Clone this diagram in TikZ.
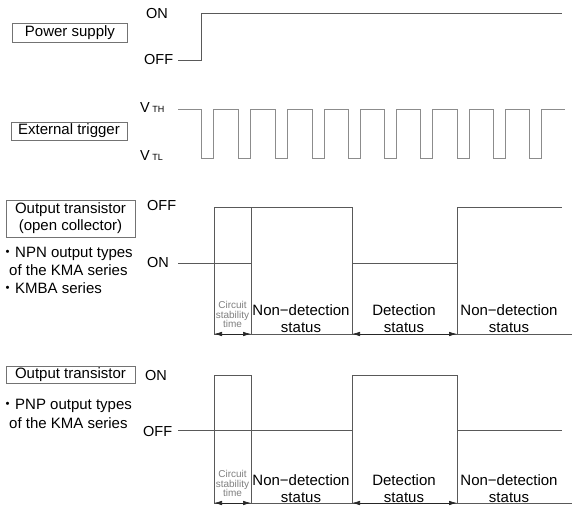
\documentclass[tikz,border=0pt]{standalone}
\usepackage{fontspec}
\setmainfont{Liberation Sans}
\newfontfamily\jpfont{Noto Sans CJK JP}
\usetikzlibrary{arrows.meta}
\newcommand{\jdot}{{\jpfont ・}}
\newcommand{\jdash}{\char"2212\relax}
\tikzset{
  lbl/.style={font=\fontsize{14.5}{17}\selectfont, inner sep=0pt},
  boxlbl/.style={draw=black!55, line width=0.7pt, inner sep=0pt, align=center, font=\fontsize{15}{17}\selectfont},
  notes/.style={font=\fontsize{15}{18}\selectfont, inner sep=0pt, anchor=base west},
  status/.style={font=\fontsize{15}{17}\selectfont, inner sep=0pt, align=center},
  tiny/.style={font=\fontsize{10}{9.5}\selectfont, text=black!50, inner sep=0pt, align=center},
  wave/.style={draw=black!65, line width=0.8pt},
  trig/.style={draw=black!45, line width=0.8pt},
  dimline/.style={draw=black!65, line width=0.7pt},
  dimarrow/.style={draw=black!85, line width=0.7pt, {Latex[length=8pt,width=4.5pt]}-{Latex[length=8pt,width=4.5pt]}}
}
\begin{document}
\begin{tikzpicture}[x=1pt,y=-1pt]
\useasboundingbox[fill=white] (0,0) rectangle (572,508);

% ---------- Power supply ----------
\node[boxlbl, minimum width=115pt, minimum height=19pt] (pwr) at (70,32.5) {Power supply};
\node[lbl, anchor=west] (pon) at (146,14) {ON};
\node[lbl, anchor=west] (poff) at (144,60) {OFF};
\draw[wave] (178,60) -- (201,60) -- (201,13) -- (562,13);

% ---------- External trigger ----------
\node[boxlbl, minimum width=116pt, minimum height=18pt] (trg) at (69,131) {External trigger};
\node[lbl, anchor=west] (vth) at (140,108) {V\,{\fontsize{9}{9}\selectfont TH}};
\node[lbl, anchor=west] (vtl) at (140,156) {V\,{\fontsize{9}{9}\selectfont TL}};
\draw[trig] (178,109)
  \foreach \f in {201,238,275,312,348,384,420,457,493,529}
    { -- (\f,109) -- (\f,158) -- ({\f+12},158) -- ({\f+12},109) }
  -- (565,109);

% ---------- Output transistor (NPN) ----------
\node[boxlbl, minimum width=129pt, minimum height=37pt] (npn) at (70.5,218.5)
  {Output transistor\\(open collector)};
\node[notes] (npn1) at (0,257.5) {\jdot NPN output types};
\node[notes] (npn2) at (9,275.5) {of the KMA series};
\node[notes] (npn3) at (0,293.5) {\jdot KMBA series};
\node[lbl, anchor=west] (noff) at (147,206) {OFF};
\node[lbl, anchor=west] (non) at (147,263) {ON};
\draw[wave] (178,263) -- (251,263);
\draw[wave] (214,334) -- (214,207) -- (352,207) -- (352,334);
\draw[wave] (251,207) -- (251,334);
\draw[wave] (352,263) -- (457,263);
\draw[wave] (457,334) -- (457,207) -- (562,207);
\draw[dimline] (214,334) -- (572,334);
\draw[dimarrow] (214,334) -- (251,334);
\draw[dimarrow] (352,334) -- (457,334);
\node[tiny] (nst) at (232.5,314.5) {Circuit\\stability\\time};
\node[status] (nnd1) at (301,318.5) {Non\jdash detection\\status};
\node[status] (ndt) at (404,318.5) {Detection\\status};
\node[status] (nnd2) at (509,318.5) {Non\jdash detection\\status};

% ---------- Output transistor (PNP) ----------
\node[boxlbl, minimum width=129pt, minimum height=17pt] (pnp) at (70.5,374.5) {Output transistor};
\node[notes] (pnp1) at (0,409.5) {\jdot PNP output types};
\node[notes] (pnp2) at (9,428) {of the KMA series};
\node[lbl, anchor=west] (qon) at (145,376) {ON};
\node[lbl, anchor=west] (qoff) at (143,432) {OFF};
\draw[wave] (178,430) -- (352,430);
\draw[wave] (214,503) -- (214,375) -- (251,375) -- (251,503);
\draw[wave] (352,503) -- (352,375) -- (457,375) -- (457,503);
\draw[wave] (457,430) -- (562,430);
\draw[dimline] (214,503) -- (572,503);
\draw[dimarrow] (214,503) -- (251,503);
\draw[dimarrow] (352,503) -- (457,503);
\node[tiny] (qst) at (232.5,483.5) {Circuit\\stability\\time};
\node[status] (qnd1) at (301,489) {Non\jdash detection\\status};
\node[status] (qdt) at (404,489) {Detection\\status};
\node[status] (qnd2) at (509,489) {Non\jdash detection\\status};
\end{tikzpicture}
\end{document}
